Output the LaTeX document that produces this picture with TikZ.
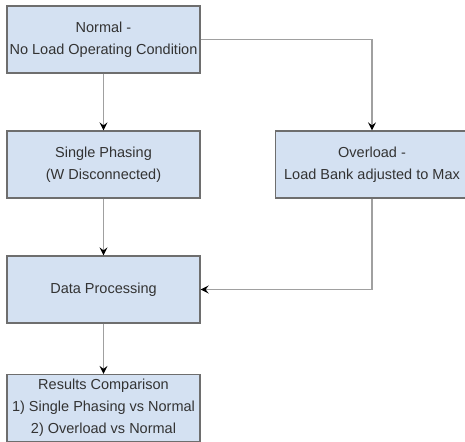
\documentclass[tikz,border=0pt]{standalone}
\usepackage{fontspec}
\setmainfont{Liberation Sans}
\usetikzlibrary{arrows.meta}
\definecolor{boxfill}{HTML}{D4E1F2}
\definecolor{boxline}{HTML}{6E6E6E}
\definecolor{conn}{HTML}{A0A0A0}
\definecolor{txt}{HTML}{333333}
\tikzset{
  flowbox/.style={draw=boxline, line width=1.3pt, fill=boxfill, minimum width=193pt, minimum height=67pt,
    inner sep=0pt, align=center, text=txt, font=\fontsize{14.5}{22}\selectfont},
  conline/.style={draw=conn, line width=1.4pt, -{Stealth[length=8pt,width=8pt,inset=3pt,color=black]}}
}
\begin{document}
\begin{tikzpicture}[x=1pt,y=-1pt]
\useasboundingbox (0,0) rectangle (465,441);
\node[flowbox] (normal) at (103.5,39.5) {Normal -\\No Load Operating Condition};
\node[flowbox] (single) at (103.5,164.5) {Single Phasing\\(W Disconnected)};
\node[flowbox] (over) at (372,164.5) {Overload -\\Load Bank adjusted to Max};
\node[flowbox] (data) at (103.5,289.5) {Data Processing};
\node[flowbox] (res) at (103.5,408) {Results Comparison\\1) Single Phasing vs Normal\\2) Overload vs Normal};
\draw[conline] (normal) -- (single);
\draw[conline] (normal.east) -| (over.north);
\draw[conline] (single) -- (data);
\draw[conline] (over.south) |- (data.east);
\draw[conline] (data) -- (res);
\end{tikzpicture}
\end{document}
